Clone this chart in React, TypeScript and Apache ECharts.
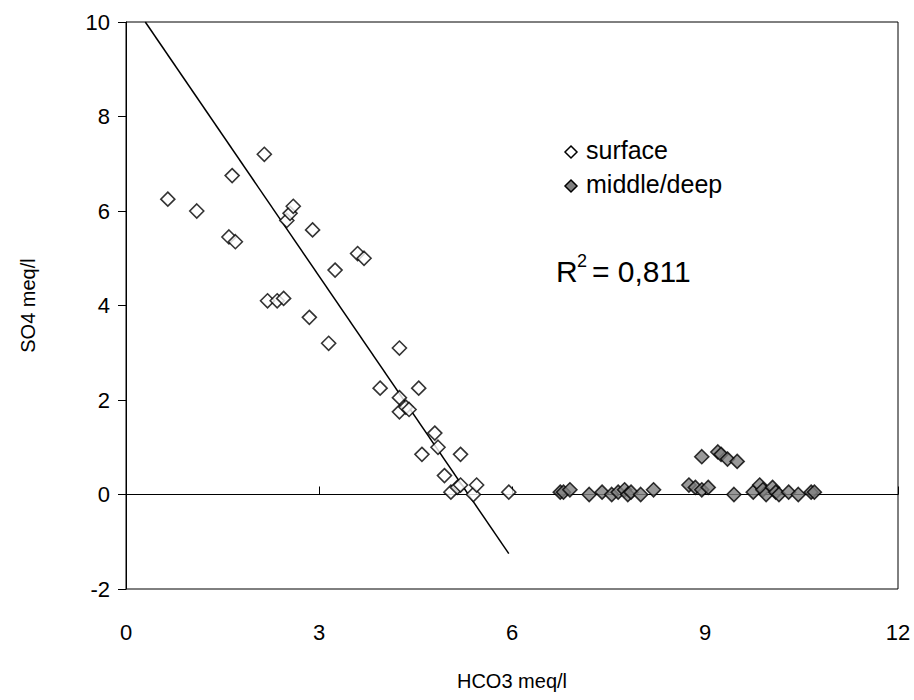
import { useRef, useEffect } from "react";
import * as echarts from "echarts";

const surface = [
  [0.65, 6.25], [1.1, 6.0], [1.6, 5.45], [1.7, 5.35], [1.65, 6.75], [2.15, 7.2],
  [2.2, 4.1], [2.35, 4.1], [2.45, 4.15], [2.5, 5.8], [2.55, 5.95], [2.6, 6.1],
  [2.9, 5.6], [2.85, 3.75], [3.15, 3.2], [3.25, 4.75], [3.6, 5.1], [3.7, 5.0],
  [3.95, 2.25], [4.25, 3.1], [4.25, 2.05], [4.25, 1.75], [4.35, 1.85], [4.4, 1.8],
  [4.55, 2.25], [4.6, 0.85], [4.8, 1.3], [4.85, 1.0], [4.95, 0.4], [5.05, 0.05],
  [5.15, 0.15], [5.2, 0.2], [5.2, 0.85], [5.4, 0.0], [5.45, 0.2], [5.95, 0.05],
];

const middleDeep = [
  [6.75, 0.05], [6.8, 0.05], [6.9, 0.1], [7.2, 0], [7.4, 0.05], [7.55, 0],
  [7.65, 0.05], [7.75, 0.1], [7.8, 0], [7.85, 0.05], [8.0, 0], [8.2, 0.1],
  [8.75, 0.2], [8.85, 0.15], [8.95, 0.1], [9.05, 0.15], [8.95, 0.8], [9.2, 0.9],
  [9.25, 0.85], [9.35, 0.75], [9.5, 0.7], [9.45, 0], [9.75, 0.05], [9.85, 0.2],
  [9.9, 0.1], [9.95, 0], [10.05, 0.15], [10.1, 0.05], [10.15, 0], [10.3, 0.05],
  [10.45, 0], [10.65, 0.05], [10.7, 0.05],
];

const trend = [[0.3, 10.0], [5.95, -1.25]];

const font = "Liberation Sans, Arial, sans-serif";

const App = () => {
  const chartRef = useRef<HTMLDivElement>(null);

  useEffect(() => {
    const chart = echarts.init(chartRef.current, null, { renderer: "svg" });
    chart.setOption({
      animation: false,
      textStyle: { fontFamily: font },
      grid: { left: 126, right: 16, top: 22, bottom: 111, show: true, borderColor: "#000", borderWidth: 1 },
      xAxis: [
        {
          type: "value", min: 0, max: 12, interval: 3,
          name: "HCO3 meq/l", nameLocation: "middle", nameGap: 82,
          nameTextStyle: { fontSize: 20, color: "#000", fontFamily: font },
          axisLine: { show: false }, axisTick: { show: false }, splitLine: { show: false },
          axisLabel: { fontSize: 22, color: "#000", margin: 32, fontFamily: font },
        },
        {
          type: "value", min: 0, max: 12, interval: 3, position: "bottom", offset: -94.5,
          axisLine: { show: true, onZero: false, lineStyle: { color: "#000" } },
          axisTick: { show: true, inside: true, length: 8, lineStyle: { color: "#000" } },
          axisLabel: { show: false }, splitLine: { show: false },
        },
      ],
      yAxis: {
        type: "value", min: -2, max: 10, interval: 2,
        name: "SO4 meq/l", nameLocation: "middle", nameGap: 88,
        nameTextStyle: { fontSize: 20, color: "#000", fontFamily: font },
        axisLine: { show: true, lineStyle: { color: "#000" } },
        axisTick: { show: true, length: 8, lineStyle: { color: "#000" } },
        splitLine: { show: false },
        axisLabel: { fontSize: 22, color: "#000", margin: 16, fontFamily: font },
      },
      series: [
        {
          type: "line", data: trend, xAxisIndex: 0, symbol: "none",
          lineStyle: { color: "#000", width: 1.5 }, z: 1,
        },
        {
          name: "surface", type: "scatter", data: surface, symbol: "diamond", symbolSize: 14,
          itemStyle: { color: "#fff", borderColor: "#000", borderWidth: 1.6 }, z: 3,
        },
        {
          name: "middle/deep", type: "scatter", data: middleDeep, symbol: "diamond", symbolSize: 14,
          itemStyle: { color: "#808080", borderColor: "#000", borderWidth: 1.6 }, z: 3,
        },
      ],
      graphic: [
        { type: "polygon", shape: { points: [[571, 146], [577, 152], [571, 158], [565, 152]] }, style: { fill: "#fff", stroke: "#000", lineWidth: 1.5 } },
        { type: "text", left: 586, top: 137, style: { text: "surface", fontSize: 25, fill: "#000", fontFamily: font } },
        { type: "polygon", shape: { points: [[571, 180], [577, 186], [571, 192], [565, 186]] }, style: { fill: "#808080", stroke: "#000", lineWidth: 1.5 } },
        { type: "text", left: 586, top: 171, style: { text: "middle/deep", fontSize: 25, fill: "#000", fontFamily: font } },
        { type: "text", left: 556, top: 256, style: { text: "R", fontSize: 30, fill: "#000", fontFamily: font } },
        { type: "text", left: 577, top: 252, style: { text: "2", fontSize: 18, fill: "#000", fontFamily: font } },
        { type: "text", left: 592, top: 256, style: { text: "= 0,811", fontSize: 30, fill: "#000", fontFamily: font } },
      ],
    });
    return () => {
      chart.dispose();
    };
  }, []);

  return <div ref={chartRef} style={{ position: "absolute", left: 0, top: 0, width: "914px", height: "700px" }}></div>;
};

export default App;
